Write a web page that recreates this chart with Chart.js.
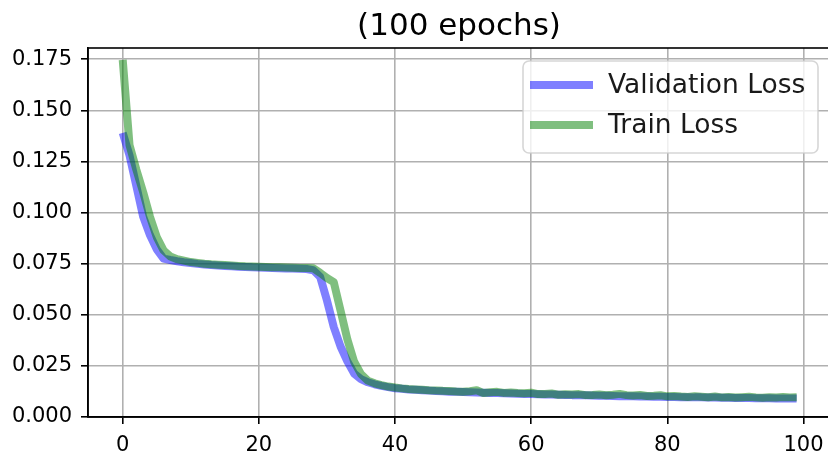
<!DOCTYPE html>
<html>
<head>
<meta charset="utf-8">
<script src="https://cdn.jsdelivr.net/npm/chart.js@4.4.1/dist/chart.umd.min.js"></script>
<style>
  html, body { margin: 0; padding: 0; background: #fff; }
  #wrap { width: 828px; height: 455px; }
</style>
</head>
<body>
<div id="wrap"><canvas id="lossChart" width="828" height="455"></canvas></div>
<script>
const chartTitle = "(100 epochs)";
const seriesNames = ["Validation Loss", "Train Loss"];
const xTicks = [0, 20, 40, 60, 80, 100];
const yTicks = [0, 0.025, 0.05, 0.075, 0.1, 0.125, 0.15, 0.175];

const valLoss = [
    0.139, 0.128, 0.113, 0.098, 0.089, 0.082, 0.0775, 0.0768, 0.0762, 0.0757,
    0.0753, 0.0749, 0.0746, 0.0743, 0.0741, 0.0739, 0.0737, 0.0735, 0.0734, 0.0732,
    0.0731, 0.0730, 0.0729, 0.0728, 0.0727, 0.0726, 0.0725, 0.0724, 0.0718, 0.0685,
    0.0570, 0.0440, 0.0345, 0.0272, 0.0212, 0.0185, 0.0170, 0.0160, 0.0152, 0.0146,
    0.0141, 0.0138, 0.0135, 0.0133, 0.0131, 0.0129, 0.0127, 0.0126, 0.0124, 0.0123,
    0.0122, 0.0121, 0.0120, 0.0119, 0.0118, 0.0117, 0.0116, 0.0115, 0.0114, 0.0113,
    0.0112, 0.0111, 0.0110, 0.0110, 0.0109, 0.0108, 0.0107, 0.0107, 0.0106, 0.0105,
    0.0104, 0.0104, 0.0103, 0.0102, 0.0102, 0.0101, 0.0100, 0.0100, 0.0099, 0.0099,
    0.0098, 0.0098, 0.0097, 0.0097, 0.0096, 0.0096, 0.0095, 0.0095, 0.0094, 0.0094,
    0.0093, 0.0093, 0.0093, 0.0092, 0.0092, 0.0092, 0.0091, 0.0091, 0.0091, 0.0090
];

const trainLoss = [
    0.1747, 0.133, 0.121, 0.110, 0.098, 0.088, 0.0815, 0.0785, 0.0772, 0.0765,
    0.0758, 0.0754, 0.0750, 0.0747, 0.0745, 0.0743, 0.0741, 0.0739, 0.0737, 0.0736,
    0.0735, 0.0734, 0.0733, 0.0732, 0.0731, 0.0730, 0.0729, 0.0729, 0.0728, 0.0705,
    0.0680, 0.0660, 0.0520, 0.0380, 0.0270, 0.0210, 0.0178, 0.0165, 0.0156, 0.0149,
    0.0144, 0.0140, 0.0137, 0.0135, 0.0133, 0.0131, 0.0130, 0.0128, 0.0127, 0.0125,
    0.0124, 0.0126, 0.0131, 0.0117, 0.0121, 0.0123, 0.0118, 0.0120, 0.0117, 0.0116,
    0.0119, 0.0112, 0.0113, 0.0115, 0.0109, 0.0111, 0.0110, 0.0112, 0.0107, 0.0108,
    0.0110, 0.0106, 0.0109, 0.0113, 0.0107, 0.0105, 0.0108, 0.0103, 0.0104, 0.0106,
    0.0101, 0.0103, 0.0100, 0.0098, 0.0101, 0.0099, 0.0097, 0.0100, 0.0096, 0.0098,
    0.0095, 0.0097, 0.0099, 0.0096, 0.0094, 0.0097, 0.0095, 0.0098, 0.0096, 0.0097
];

const epochs = valLoss.map((_, i) => i);

const blue = 'rgba(0, 0, 255, 0.5)';
const green = 'rgba(0, 128, 0, 0.5)';

// title, axes frame and the boxed legend, drawn the matplotlib way
const mplExtras = {
    id: 'mplExtras',
    afterDatasetsDraw(chart) {
        const { ctx, chartArea: a } = chart;
        ctx.save();
        ctx.strokeStyle = '#000';
        ctx.lineWidth = 1.6;
        ctx.strokeRect(a.left, a.top, a.right - a.left + 1, a.bottom - a.top);
        ctx.restore();
    },
    afterDraw(chart) {
        const { ctx } = chart;
        ctx.save();
        // title
        ctx.fillStyle = '#000';
        ctx.font = '31px "DejaVu Sans"';
        ctx.textAlign = 'center';
        ctx.textBaseline = 'alphabetic';
        ctx.fillText(chartTitle, 459, 35);

        // legend
        const w = 295, h = 92;
        const x0 = 523, y0 = 61;
        ctx.beginPath();
        ctx.roundRect(x0, y0, w, h, 6);
        ctx.fillStyle = 'rgba(255,255,255,0.8)';
        ctx.fill();
        ctx.strokeStyle = 'rgba(204,204,204,0.8)';
        ctx.lineWidth = 1.6;
        ctx.stroke();

        const colors = [blue, green];
        ctx.font = '26.5px "DejaVu Sans"';
        ctx.textAlign = 'left';
        ctx.textBaseline = 'middle';
        seriesNames.forEach((name, i) => {
            const cy = y0 + 24 + i * 40;
            ctx.beginPath();
            ctx.moveTo(x0 + 7, cy);
            ctx.lineTo(x0 + 70, cy);
            ctx.strokeStyle = colors[i];
            ctx.lineWidth = 8;
            ctx.lineCap = 'butt';
            ctx.stroke();
            ctx.fillStyle = '#1a1a1a';
            ctx.fillText(name, x0 + 85, cy + 1);
        });
        ctx.restore();
    }
};

function renderChart() {
    Chart.defaults.font.family = '"DejaVu Sans"';
    Chart.defaults.color = '#000';
    const ctx = document.getElementById('lossChart').getContext('2d');
    new Chart(ctx, {
        type: 'line',
        data: {
            datasets: [
                {
                    label: seriesNames[0],
                    data: epochs.map((e, i) => ({ x: e, y: valLoss[i] })),
                    borderColor: blue,
                    borderWidth: 8,
                    order: 1
                },
                {
                    label: seriesNames[1],
                    data: epochs.map((e, i) => ({ x: e, y: trainLoss[i] })),
                    borderColor: green,
                    borderWidth: 8,
                    order: 0
                }
            ]
        },
        options: {
            responsive: false,
            animation: false,
            layout: { padding: { top: 48, right: 0, left: 0, bottom: 0 } },
            elements: {
                point: { radius: 0 },
                line: { tension: 0, borderJoinStyle: 'round', borderCapStyle: 'butt', fill: false }
            },
            plugins: { legend: { display: false }, title: { display: false }, tooltip: { enabled: false } },
            scales: {
                x: {
                    type: 'linear',
                    min: -5.1,
                    max: 103.6,
                    afterFit(s) { s.height = 38; s.paddingLeft = 0; s.paddingRight = 0; },
                    afterBuildTicks(s) { s.ticks = xTicks.map(v => ({ value: v })); },
                    ticks: { font: { size: 21 }, padding: 9, maxRotation: 0, callback: v => String(v) },
                    grid: { color: '#b0b0b0', lineWidth: 1.6, tickColor: '#000', tickLength: 7, tickWidth: 1.6 },
                    border: { color: '#000', width: 1.6 }
                },
                y: {
                    min: 0,
                    max: 0.1805,
                    afterFit(s) { s.width = 88; s.paddingTop = 0; s.paddingBottom = 0; },
                    afterBuildTicks(s) { s.ticks = yTicks.map(v => ({ value: v })); },
                    ticks: { font: { size: 21 }, padding: 9, callback: v => v.toFixed(3) },
                    grid: { color: '#b0b0b0', lineWidth: 1.6, tickColor: '#000', tickLength: 7, tickWidth: 1.6 },
                    border: { color: '#000', width: 1.6 }
                }
            }
        },
        plugins: [mplExtras]
    });
}

document.addEventListener("DOMContentLoaded", renderChart);
</script>
</body>
</html>
